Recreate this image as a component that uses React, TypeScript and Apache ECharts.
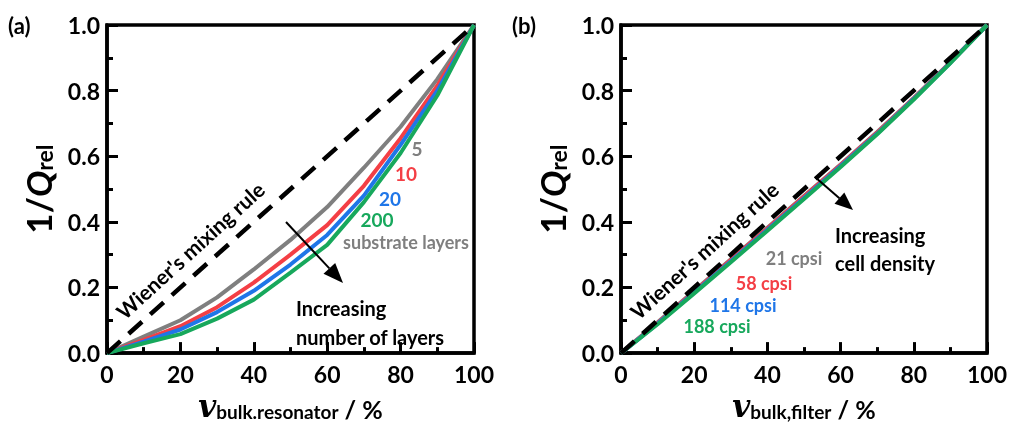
import React, { useEffect, useRef } from "react";
import * as echarts from "echarts";

const xValues = [0, 10, 20, 30, 40, 50, 60, 70, 80, 90, 100];
const xTicks = [0, 20, 40, 60, 80, 100];
const yTicks = ["0.0", "0.2", "0.4", "0.6", "0.8", "1.0"];

// panel (a): number of substrate layers
const layerNames = ["5", "10", "20", "200"];
const a5 = [0, 0.05, 0.1, 0.17, 0.255, 0.345, 0.445, 0.565, 0.69, 0.835, 1.0];
const a10 = [0, 0.04, 0.082, 0.14, 0.215, 0.3, 0.39, 0.51, 0.655, 0.815, 1.0];
const a20 = [0, 0.035, 0.072, 0.125, 0.19, 0.27, 0.36, 0.48, 0.635, 0.8, 1.0];
const a200 = [0, 0.03, 0.058, 0.105, 0.163, 0.245, 0.33, 0.46, 0.61, 0.785, 1.0];

// panel (b): cell density
const cellNames = ["21 cpsi", "58 cpsi", "114 cpsi", "188 cpsi"];
const b21 = [0, 0.094, 0.19, 0.286, 0.382, 0.479, 0.575, 0.674, 0.778, 0.887, 1.0];
const b58 = [0, 0.092, 0.188, 0.284, 0.38, 0.477, 0.573, 0.672, 0.777, 0.886, 1.0];
const b114 = [0, 0.09, 0.185, 0.28, 0.376, 0.473, 0.57, 0.669, 0.775, 0.885, 1.0];
const b188 = [0, 0.088, 0.182, 0.277, 0.373, 0.47, 0.567, 0.667, 0.773, 0.884, 1.0];

// Wiener's mixing rule (linear)
const wiener = [0, 1];
const wienerX = [0, 100];

const COLORS = ["#7f7f7f", "#f43f45", "#1f76e8", "#17a85c"];
const FONT = "Lato";

function pairs(ys: number[]) {
  return ys.map((y, i) => [xValues[i], y]);
}

export default function App() {
  const ref = useRef<HTMLDivElement>(null);
  useEffect(() => {
    if (!ref.current) return;
    const chart = echarts.init(ref.current, undefined, { renderer: "svg" });

    const grids = [
      { left: 107, top: 25, width: 367, height: 334 },
      { left: 621, top: 25, width: 368, height: 334 },
    ];

    const xAxisBase = (idx: number, sub: string) => ({
      type: "value",
      gridIndex: idx,
      min: 0,
      max: 100,
      interval: 20,
      splitLine: { show: false },
      axisLine: { show: true, lineStyle: { color: "#000", width: 3.5 } },
      axisTick: { show: true, inside: true, length: 11, lineStyle: { color: "#000", width: 3 } },
      minorTick: { show: true, splitNumber: 2, length: 6, lineStyle: { color: "#000", width: 3 } },
      axisLabel: {
        margin: 9,
        color: "#000",
        fontFamily: FONT,
        fontWeight: "bold",
        fontSize: 23,
        formatter: (v: number) => (xTicks.includes(v) ? String(v) : ""),
      },
      name: "{v|v}{s|" + sub + "}{t| / %}",
      nameLocation: "middle",
      nameGap: 26,
      nameTextStyle: {
        rich: {
          v: { fontFamily: "DejaVu Serif", fontStyle: "italic", fontWeight: "bold", fontSize: 31, color: "#000", lineHeight: 32, verticalAlign: "bottom" },
          s: { fontFamily: FONT, fontWeight: "bold", fontSize: 19, color: "#000", lineHeight: 10, verticalAlign: "bottom" },
          t: { fontFamily: FONT, fontWeight: "bold", fontSize: 25, color: "#000", lineHeight: 32, verticalAlign: "bottom" },
        },
      },
    });

    const yAxisBase = (idx: number) => ({
      type: "value",
      gridIndex: idx,
      min: 0,
      max: 1,
      interval: 0.2,
      splitLine: { show: false },
      axisLine: { show: true, lineStyle: { color: "#000", width: 3.5 } },
      axisTick: { show: true, inside: true, length: 11, lineStyle: { color: "#000", width: 3 } },
      minorTick: { show: true, splitNumber: 2, length: 6, lineStyle: { color: "#000", width: 3 } },
      axisLabel: {
        margin: 7,
        color: "#000",
        fontFamily: FONT,
        fontWeight: "bold",
        fontSize: 23,
        formatter: (v: number) => {
          const s = v.toFixed(1);
          return yTicks.includes(s) ? s : "";
        },
      },
      name: "{n|1/}{q|Q}{s|rel}",
      nameLocation: "middle",
      nameRotate: 90,
      nameGap: 52,
      nameTextStyle: {
        rich: {
          n: { fontFamily: FONT, fontWeight: "bold", fontSize: 35, color: "#000", lineHeight: 36, verticalAlign: "bottom" },
          q: { fontFamily: FONT, fontStyle: "italic", fontWeight: "bold", fontSize: 35, color: "#000", lineHeight: 36, verticalAlign: "bottom" },
          s: { fontFamily: FONT, fontWeight: "bold", fontSize: 23, color: "#000", lineHeight: 12, verticalAlign: "bottom" },
        },
      },
    });

    const lineSeries = (name: string, ys: number[], color: string, idx: number) => ({
      type: "line",
      name,
      xAxisIndex: idx,
      yAxisIndex: idx,
      data: pairs(ys),
      showSymbol: false,
      symbol: "none",
      lineStyle: { color, width: 4 },
      z: 3,
    });

    const dashed = (idx: number) => ({
      type: "line",
      name: "Wiener",
      xAxisIndex: idx,
      yAxisIndex: idx,
      data: wienerX.map((x, i) => [x, wiener[i]]),
      symbol: "none",
      lineStyle: { color: "#000", width: 4.5, type: [18, 11] },
      z: 4,
    });

    const txt = (text: string, x: number, y: number, color: string, size: number, align = "center", rotation = 0) => ({
      type: "text",
      x,
      y,
      rotation,
      z: 10,
      style: {
        text,
        fill: color,
        fontFamily: FONT,
        fontWeight: "bold",
        fontSize: size,
        align,
        verticalAlign: "middle",
      },
    });

    const arrow = (x1: number, y1: number, x2: number, y2: number, len: number, half: number) => {
      const dx = x2 - x1;
      const dy = y2 - y1;
      const L = Math.hypot(dx, dy);
      const ux = dx / L;
      const uy = dy / L;
      const bx = x2 - ux * len;
      const by = y2 - uy * len;
      const nx = -uy;
      const ny = ux;
      return [
        { type: "line", z: 10, shape: { x1, y1, x2: bx, y2: by }, style: { stroke: "#000", lineWidth: 2 } },
        {
          type: "polygon",
          z: 10,
          shape: { points: [[x2, y2], [bx + nx * half, by + ny * half], [bx - nx * half, by - ny * half]] },
          style: { fill: "#000" },
        },
      ];
    };

    const ang = Math.atan2(334, 367);

    chart.setOption({
      animation: false,
      grid: grids.map((g) => ({ ...g, show: true, borderColor: "#000", borderWidth: 3.5, backgroundColor: "transparent" })),
      xAxis: [xAxisBase(0, "bulk.resonator"), xAxisBase(1, "bulk,filter")],
      yAxis: [yAxisBase(0), yAxisBase(1)],
      series: [
        lineSeries(layerNames[0], a5, COLORS[0], 0),
        lineSeries(layerNames[1], a10, COLORS[1], 0),
        lineSeries(layerNames[2], a20, COLORS[2], 0),
        lineSeries(layerNames[3], a200, COLORS[3], 0),
        dashed(0),
        lineSeries(cellNames[0], b21, COLORS[0], 1),
        lineSeries(cellNames[1], b58, COLORS[1], 1),
        lineSeries(cellNames[2], b114, COLORS[2], 1),
        lineSeries(cellNames[3], b188, COLORS[3], 1),
        dashed(1),
      ],
      graphic: [
        txt("(a)", 8, 25, "#000", 22, "left"),
        txt("(b)", 512, 25, "#000", 22, "left"),
        // panel a
        txt("Wiener's mixing rule", 190, 250, "#000", 21, "center", ang),
        txt(layerNames[0], 417, 148, COLORS[0], 19),
        txt(layerNames[1], 406, 173, COLORS[1], 19),
        txt(layerNames[2], 390, 198, COLORS[2], 19),
        txt(layerNames[3], 377, 219, COLORS[3], 19),
        txt("substrate layers", 406, 242, COLORS[0], 18),
        txt("Increasing", 296, 308, "#000", 20, "left"),
        txt("number of layers", 296, 337, "#000", 20, "left"),
        ...arrow(286, 222, 343, 283, 20, 8),
        // panel b
        txt("Wiener's mixing rule", 704, 250, "#000", 21, "center", ang),
        txt(cellNames[0], 794, 258, COLORS[0], 18),
        txt(cellNames[1], 764, 283, COLORS[1], 18),
        txt(cellNames[2], 743, 305, COLORS[2], 18),
        txt(cellNames[3], 717, 326, COLORS[3], 18),
        txt("Increasing", 835, 235, "#000", 20, "left"),
        txt("cell density", 835, 263, "#000", 20, "left"),
        ...arrow(815, 177, 853, 210, 18, 7.5),
      ],
    });
    return () => chart.dispose();
  }, []);
  return <div ref={ref} style={{ position: "fixed", left: 0, top: 0, width: 1010, height: 426 }} />;
}
